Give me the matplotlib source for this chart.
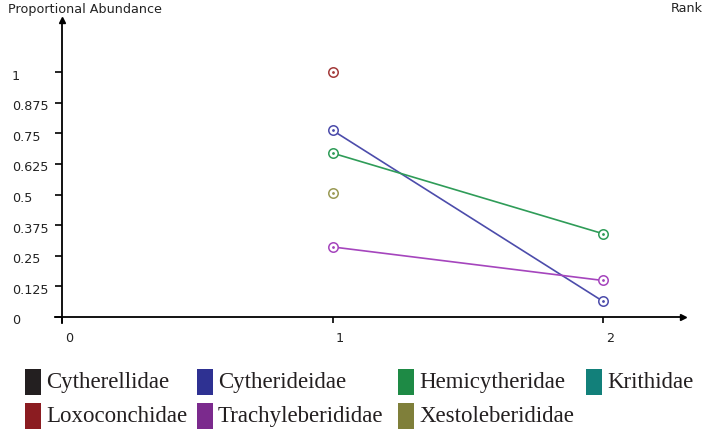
import matplotlib
matplotlib.use("Agg")
import matplotlib.pyplot as plt
import matplotlib.transforms as mtransforms
from matplotlib.patches import Rectangle

# ---- data ----
families = ["Cytherellidae", "Cytherideidae", "Hemicytheridae", "Krithidae",
            "Loxoconchidae", "Trachyleberididae", "Xestoleberididae"]
legend_colors = ["#231f20", "#2e3192", "#1e8a45", "#12807a",
                 "#8b1c21", "#7b2a8d", "#7f7f3a"]

series_names = ["Loxoconchidae", "Cytherideidae", "Hemicytheridae",
                "Xestoleberididae", "Trachyleberididae"]
series_ranks = [[1], [1, 2], [1, 2], [1], [1, 2]]
series_values = [[1.0], [0.762, 0.064], [0.669, 0.340], [0.505], [0.286, 0.149]]
series_colors = ["#a33a3a", "#4c4cab", "#2f9c58", "#9a9a55", "#a545bd"]

y_ticks = [0, 0.125, 0.25, 0.375, 0.5, 0.625, 0.75, 0.875, 1]
y_tick_labels = ["0", "0.125", "0.25", "0.375", "0.5", "0.625", "0.75", "0.875", "1"]
x_ticks = [0, 1, 2]
x_tick_labels = ["0", "1", "2"]

W, H = 704, 433
fig = plt.figure(figsize=(W / 100, H / 100), dpi=100)

# axes placed in pixel coordinates
ax_l, ax_r, ax_b, ax_t = 55, 683, 317, 20
ax = fig.add_axes([ax_l / W, (H - ax_b) / H, (ax_r - ax_l) / W, (ax_b - ax_t) / H])
x0_px, x_unit = 62, 270.5
y_unit = 245.0
ax.set_xlim((ax_l - x0_px) / x_unit, (ax_r - x0_px) / x_unit)
ax.set_ylim(0, (ax_b - ax_t) / y_unit)

for s in ["top", "right"]:
    ax.spines[s].set_visible(False)
ax.spines["left"].set_position(("data", 0))
ax.spines["left"].set_linewidth(1.3)
ax.spines["bottom"].set_linewidth(1.3)
ax.spines["left"].set_bounds(-0.025, (ax_b - ax_t) / y_unit)

txt_color = "#222222"
fs = 9.2
ax.set_yticks(y_ticks)
ax.set_yticklabels(y_tick_labels)
ax.set_xticks(x_ticks)
ax.set_xticklabels(x_tick_labels)
ax.tick_params(axis="y", direction="out", length=5, width=1.2, pad=31,
               labelsize=fs, labelcolor=txt_color)
ax.tick_params(axis="x", direction="out", length=4.5, width=1.2, pad=6,
               labelsize=fs, labelcolor=txt_color)
for lab in ax.get_yticklabels():
    lab.set_horizontalalignment("left")
    lab.set_transform(lab.get_transform() +
                      mtransforms.ScaledTranslation(0, -2.5 / 100, fig.dpi_scale_trans))
for lab in ax.get_xticklabels():
    lab.set_transform(lab.get_transform() +
                      mtransforms.ScaledTranslation(7 / 100, 0, fig.dpi_scale_trans))

# arrow heads
ymax = (ax_b - ax_t) / y_unit
xmax = (ax_r - x0_px) / x_unit
ax.plot([0], [ymax], marker="^", markersize=5, color="black", clip_on=False)
ax.plot([xmax], [0], marker=">", markersize=5, color="black", clip_on=False)

# data series
for name, xs, ys, c in zip(series_names, series_ranks, series_values, series_colors):
    ax.plot(xs, ys, color=c, lw=1.2, clip_on=False, zorder=3)
    ax.plot(xs, ys, ls="none", marker="o", markersize=6.8, markerfacecolor="white",
            markeredgecolor=c, markeredgewidth=1.1, clip_on=False, zorder=4)
    ax.plot(xs, ys, ls="none", marker="o", markersize=1.0, color=c, clip_on=False, zorder=5)

# titles
fig.text(8 / W, 1 - 10 / H, "Proportional Abundance", fontsize=fs, color=txt_color,
         ha="left", va="center")
fig.text(703 / W, 1 - 8 / H, "Rank", fontsize=fs, color=txt_color,
         ha="right", va="center")

# legend (manual layout)
leg_x = [25, 197, 398, 586, 25, 197, 398]
leg_row = [0, 0, 0, 0, 1, 1, 1]
row_top = [369, 403]
for name, c, lx, r in zip(families, legend_colors, leg_x, leg_row):
    top = row_top[r]
    fig.patches.append(Rectangle((lx / W, 1 - (top + 26) / H), 16 / W, 26 / H,
                                 transform=fig.transFigure, facecolor=c,
                                 edgecolor="none"))
    fig.text((lx + 21) / W, 1 - (top + 19) / H, name, fontsize=16.5,
             family="Liberation Serif", color="#231f20", ha="left", va="baseline")

fig.savefig("out.png", dpi=100)
